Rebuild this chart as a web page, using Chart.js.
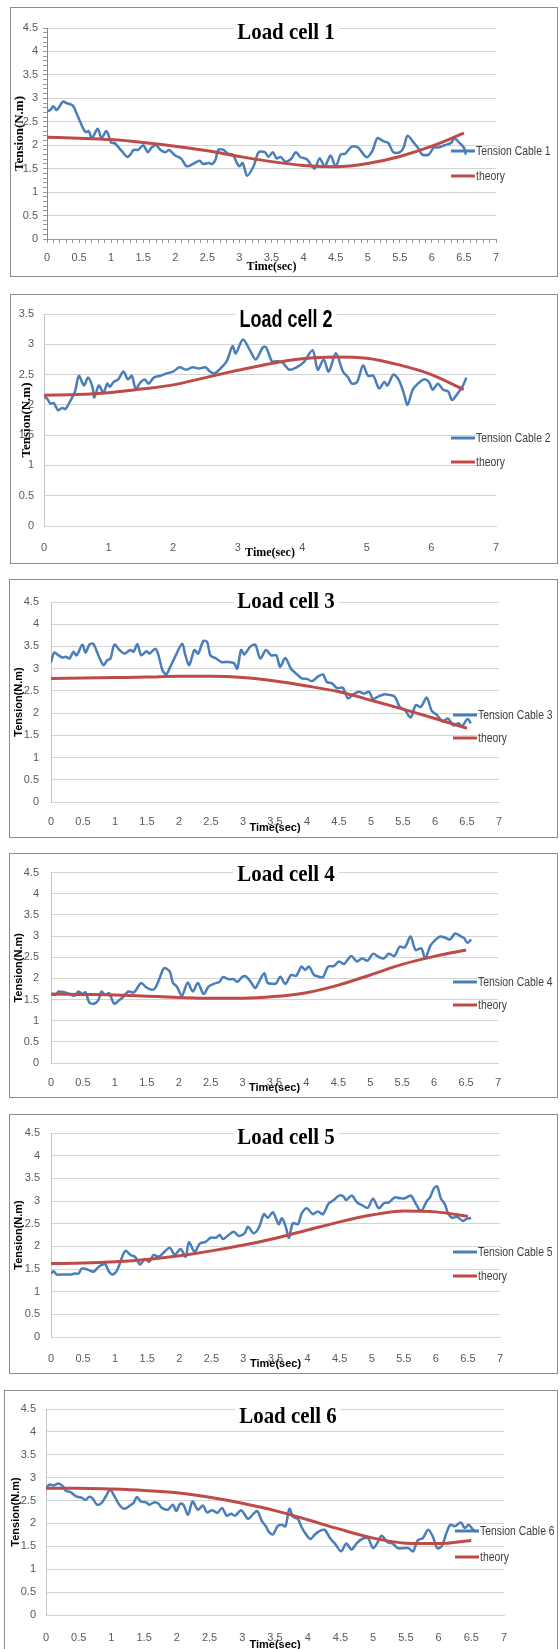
<!DOCTYPE html>
<html lang="en">
<head>
<meta charset="UTF-8">
<title>Load cells</title>
<script src="https://cdn.jsdelivr.net/npm/chart.js"></script>
<style>
  html, body { margin: 0; padding: 0; background: #fff; }
  body { position: relative; width: 560px; height: 1649px; overflow: hidden; }
  .panel { position: absolute; box-sizing: border-box; border: 1px solid #8c8c8c; background: #fff; }
  .panel canvas { display: block; }
</style>
</head>
<body>
<div class="panel" id="p0"><canvas id="c0"></canvas></div>
<div class="panel" id="p1"><canvas id="c1"></canvas></div>
<div class="panel" id="p2"><canvas id="c2"></canvas></div>
<div class="panel" id="p3"><canvas id="c3"></canvas></div>
<div class="panel" id="p4"><canvas id="c4"></canvas></div>
<div class="panel" id="p5"><canvas id="c5"></canvas></div>

<script>
const cell1Time = [0,0.05,0.1,0.15,0.25,0.3,0.4,0.47,0.55,0.6,0.65,0.7,0.79,0.85,0.92,0.95,1.0,1.05,1.15,1.25,1.3,1.35,1.42,1.5,1.57,1.63,1.7,1.77,1.85,1.9,2.0,2.05,2.1,2.18,2.3,2.38,2.43,2.52,2.58,2.63,2.67,2.75,2.82,2.9,2.95,3.0,3.05,3.12,3.22,3.3,3.4,3.45,3.52,3.58,3.64,3.72,3.8,3.88,3.95,4.05,4.17,4.25,4.33,4.42,4.5,4.58,4.65,4.75,4.85,4.95,5.0,5.08,5.15,5.25,5.32,5.4,5.5,5.56,5.62,5.72,5.78,5.85,5.95,6.03,6.1,6.2,6.3,6.35,6.43,6.5,6.53];
const cell1Tension = [2.72,2.75,2.83,2.75,2.93,2.9,2.85,2.65,2.4,2.28,2.3,2.15,2.35,2.15,2.3,2.25,2.05,2.05,1.9,1.75,1.8,1.9,1.9,2.0,1.85,1.95,2.0,1.9,1.85,1.9,1.78,1.75,1.7,1.55,1.62,1.67,1.6,1.62,1.6,1.7,1.9,1.9,1.82,1.8,1.65,1.55,1.62,1.35,1.55,1.85,1.85,1.75,1.85,1.72,1.75,1.65,1.7,1.85,1.75,1.7,1.5,1.72,1.55,1.78,1.55,1.8,1.82,1.97,1.95,1.78,1.75,1.9,2.15,2.08,2.05,1.85,1.85,1.95,2.2,2.05,1.95,1.8,1.8,1.95,1.95,2.0,2.05,2.15,2.05,1.95,1.8];

const cell2Time = [0,0.05,0.1,0.15,0.22,0.28,0.33,0.4,0.48,0.54,0.62,0.68,0.75,0.78,0.85,0.92,0.98,1.02,1.08,1.15,1.23,1.3,1.36,1.42,1.5,1.56,1.62,1.7,1.8,1.9,2.0,2.1,2.2,2.3,2.4,2.5,2.57,2.64,2.75,2.83,2.92,2.97,3.08,3.19,3.28,3.39,3.44,3.53,3.6,3.69,3.8,3.91,4.02,4.16,4.24,4.33,4.41,4.52,4.63,4.71,4.77,4.85,4.94,5.02,5.1,5.19,5.27,5.32,5.41,5.49,5.57,5.63,5.71,5.79,5.88,5.96,6.02,6.1,6.18,6.26,6.32,6.4,6.49,6.54];
const cell2Tension = [2.14,2.1,2.02,2.03,1.91,1.95,1.93,2.05,2.22,2.48,2.32,2.45,2.3,2.12,2.32,2.2,2.35,2.3,2.38,2.42,2.55,2.42,2.48,2.27,2.38,2.42,2.35,2.45,2.48,2.52,2.55,2.62,2.58,2.62,2.6,2.62,2.55,2.52,2.62,2.72,2.97,2.85,3.08,2.9,2.75,2.95,2.95,2.72,2.72,2.7,2.58,2.62,2.7,2.9,2.58,2.75,2.55,2.85,2.55,2.45,2.35,2.38,2.65,2.48,2.48,2.27,2.38,2.32,2.5,2.42,2.2,2.0,2.25,2.35,2.42,2.38,2.25,2.35,2.25,2.22,2.08,2.18,2.32,2.45];

const cell3Time = [0,0.05,0.12,0.18,0.23,0.29,0.35,0.4,0.49,0.54,0.6,0.66,0.74,0.82,0.88,0.93,0.99,1.07,1.15,1.24,1.29,1.35,1.41,1.49,1.54,1.63,1.68,1.74,1.8,1.85,1.94,2.05,2.1,2.16,2.24,2.3,2.38,2.44,2.49,2.58,2.66,2.77,2.86,2.91,2.97,3.02,3.11,3.19,3.27,3.36,3.44,3.52,3.58,3.66,3.75,3.83,3.92,4.0,4.08,4.17,4.25,4.31,4.39,4.47,4.56,4.64,4.72,4.81,4.89,4.97,5.03,5.11,5.2,5.28,5.37,5.45,5.53,5.62,5.7,5.78,5.87,5.95,6.03,6.12,6.2,6.29,6.37,6.42,6.51,6.56];
const cell3Tension = [3.14,3.36,3.3,3.25,3.27,3.23,3.38,3.3,3.54,3.36,3.54,3.56,3.3,3.08,3.19,3.23,3.54,3.42,3.34,3.42,3.38,3.55,3.3,3.39,3.34,3.45,3.3,2.97,2.87,3.0,3.27,3.56,3.3,3.08,3.42,3.34,3.62,3.6,3.3,3.23,3.15,3.15,3.12,3.0,3.42,3.32,3.49,3.54,3.23,3.42,3.3,3.3,3.04,3.24,3.0,2.89,2.78,2.77,2.72,2.82,2.87,2.7,2.67,2.56,2.57,2.33,2.42,2.48,2.44,2.48,2.32,2.37,2.42,2.41,2.37,2.14,2.07,1.9,2.18,2.14,2.35,2.05,1.96,1.81,1.88,1.72,1.77,1.7,1.87,1.77];

const cell4Time = [0,0.07,0.12,0.21,0.29,0.37,0.43,0.49,0.54,0.6,0.67,0.74,0.79,0.85,0.91,0.99,1.07,1.13,1.21,1.3,1.41,1.49,1.58,1.63,1.69,1.77,1.86,1.91,1.97,2.05,2.14,2.22,2.3,2.39,2.47,2.55,2.64,2.69,2.78,2.86,2.92,3.0,3.06,3.14,3.2,3.25,3.34,3.39,3.48,3.53,3.59,3.67,3.76,3.84,3.92,3.98,4.04,4.12,4.2,4.26,4.34,4.43,4.51,4.59,4.7,4.79,4.87,4.96,5.04,5.13,5.21,5.29,5.38,5.46,5.54,5.63,5.71,5.8,5.86,5.94,6.02,6.1,6.19,6.25,6.33,6.41,6.47,6.52,6.58];
const cell4Tension = [1.63,1.61,1.69,1.67,1.63,1.59,1.69,1.63,1.67,1.43,1.4,1.48,1.69,1.61,1.65,1.4,1.49,1.56,1.69,1.67,1.89,1.79,1.73,1.77,1.96,2.24,2.16,1.89,1.81,1.59,1.9,1.69,1.89,1.63,1.81,1.87,1.92,2.03,1.98,1.98,1.92,2.04,2.04,1.89,1.77,1.9,2.12,1.9,1.87,1.89,2.04,1.87,2.08,2.06,2.28,2.2,2.28,2.08,2.04,2.03,2.28,2.29,2.4,2.34,2.53,2.4,2.47,2.42,2.58,2.51,2.47,2.58,2.53,2.75,2.73,2.99,2.67,2.71,2.47,2.77,2.91,2.99,2.95,2.92,3.06,3.0,2.95,2.84,2.92];

const cell5Time = [0,0.04,0.09,0.21,0.32,0.37,0.43,0.48,0.54,0.6,0.66,0.73,0.79,0.85,0.9,0.96,1.03,1.1,1.16,1.24,1.31,1.39,1.46,1.53,1.6,1.68,1.77,1.85,1.93,2.02,2.1,2.15,2.24,2.32,2.41,2.49,2.57,2.63,2.68,2.77,2.85,2.93,3.02,3.07,3.16,3.24,3.32,3.38,3.46,3.55,3.6,3.66,3.71,3.77,3.85,3.91,3.99,4.08,4.16,4.24,4.33,4.41,4.49,4.56,4.6,4.69,4.77,4.86,4.94,5.02,5.11,5.19,5.27,5.36,5.44,5.52,5.61,5.69,5.77,5.86,5.91,5.97,6.02,6.08,6.14,6.19,6.25,6.33,6.42,6.47,6.55];
const cell5Tension = [1.4,1.45,1.38,1.38,1.38,1.4,1.4,1.51,1.5,1.47,1.44,1.53,1.59,1.6,1.45,1.38,1.47,1.73,1.9,1.81,1.77,1.6,1.72,1.66,1.81,1.77,1.88,1.97,1.82,1.94,1.77,2.09,1.88,2.06,2.1,2.19,2.19,2.25,2.16,2.25,2.32,2.23,2.29,2.43,2.29,2.41,2.71,2.63,2.75,2.49,2.62,2.43,2.19,2.51,2.49,2.73,2.84,2.71,2.77,2.71,2.95,3.02,3.12,3.1,3.02,3.12,2.97,2.9,2.85,3.05,2.84,2.95,2.97,3.08,3.06,3.06,3.12,2.93,2.78,3.0,3.08,3.28,3.32,3.05,2.93,2.73,2.63,2.65,2.56,2.6,2.63];

const cell6Time = [0,0.05,0.11,0.19,0.26,0.3,0.38,0.46,0.55,0.6,0.66,0.71,0.78,0.85,0.93,0.98,1.04,1.12,1.2,1.28,1.34,1.39,1.45,1.53,1.58,1.65,1.72,1.77,1.86,1.94,1.99,2.05,2.1,2.17,2.24,2.32,2.4,2.46,2.54,2.62,2.69,2.76,2.83,2.89,2.98,3.03,3.09,3.17,3.23,3.3,3.36,3.41,3.47,3.54,3.6,3.66,3.72,3.78,3.85,3.9,3.96,4.04,4.11,4.18,4.26,4.34,4.41,4.51,4.59,4.67,4.75,4.83,4.92,5.0,5.07,5.13,5.22,5.3,5.38,5.46,5.54,5.61,5.68,5.76,5.84,5.91,5.98,6.05,6.12,6.18,6.25,6.34,6.4,6.46,6.53,6.58];
const cell6Tension = [2.75,2.85,2.83,2.87,2.81,2.72,2.68,2.59,2.56,2.51,2.58,2.55,2.41,2.45,2.63,2.74,2.61,2.41,2.32,2.39,2.45,2.58,2.48,2.46,2.41,2.46,2.43,2.34,2.3,2.41,2.27,2.43,2.41,2.19,2.48,2.3,2.39,2.24,2.29,2.23,2.34,2.17,2.21,2.17,2.29,2.21,2.1,2.21,2.27,2.05,1.94,1.81,1.76,1.94,1.97,1.94,2.32,2.14,2.1,1.94,1.79,1.66,1.76,1.83,1.86,1.68,1.57,1.39,1.56,1.43,1.57,1.66,1.68,1.46,1.59,1.73,1.59,1.56,1.46,1.46,1.46,1.39,1.63,1.68,1.86,1.72,1.46,1.51,1.79,1.97,1.94,2.02,1.9,1.97,1.86,1.83];

// theory curves, sampled every 0.5 s
const theoryTime = [0,0.5,1,1.5,2,2.5,3,3.5,4,4.5,5,5.5,6,6.5];
const theory1 = [2.17,2.15,2.12,2.06,1.98,1.88,1.76,1.65,1.57,1.54,1.61,1.76,1.98,2.26];
const theory2 = [2.16,2.17,2.2,2.26,2.33,2.45,2.57,2.68,2.76,2.79,2.77,2.66,2.5,2.25];
const theory3 = [2.78,2.79,2.8,2.81,2.83,2.83,2.8,2.72,2.61,2.48,2.29,2.09,1.88,1.66];
const theory4 = [1.63,1.62,1.61,1.58,1.55,1.53,1.53,1.57,1.66,1.84,2.08,2.33,2.52,2.67];
const theory5 = [1.62,1.63,1.66,1.71,1.79,1.9,2.03,2.18,2.36,2.54,2.69,2.78,2.76,2.66];
const theory6 = [2.77,2.77,2.75,2.72,2.67,2.57,2.44,2.28,2.08,1.87,1.68,1.57,1.56,1.63];

const cellNames = ['Load cell 1','Load cell 2','Load cell 3','Load cell 4','Load cell 5','Load cell 6'];
const seriesNames = ['Tension Cable 1','Tension Cable 2','Tension Cable 3','Tension Cable 4','Tension Cable 5','Tension Cable 6'];
const yMax = [4.5, 3.5, 4.5, 4.5, 4.5, 4.5];
const xStep = [0.5, 1, 0.5, 0.5, 0.5, 0.5];

const times = [cell1Time, cell2Time, cell3Time, cell4Time, cell5Time, cell6Time];
const tensions = [cell1Tension, cell2Tension, cell3Tension, cell4Tension, cell5Tension, cell6Tension];
const theories = [theory1, theory2, theory3, theory4, theory5, theory6];

// panel boxes and plot geometry (page pixels)
const layout = [
  {left: 10, top: 7,    w: 548, h: 270, yW: 36, tp: 20, rp: 61, xH: 37, yPad: 5,  xPad: 8,  yTitle: 1, xTitle: 2, lx: 440, ly: 143, gap: 25, tx: 275, ty: 25},
  {left: 10, top: 294,  w: 548, h: 270, yW: 33, tp: 19, rp: 61, xH: 37, yPad: 10, xPad: 15, yTitle: 8, xTitle: 3, lx: 440, ly: 143, gap: 24, tx: 275, ty: 25},
  {left: 9,  top: 579,  w: 549, h: 259, yW: 41, tp: 22, rp: 58, xH: 35, yPad: 12, xPad: 13, yTitle: 2, xTitle: 2, lx: 443, ly: 135, gap: 23, tx: 276, ty: 22},
  {left: 9,  top: 853,  w: 549, h: 245, yW: 41, tp: 18, rp: 59, xH: 34, yPad: 12, xPad: 13, yTitle: 2, xTitle: 2, lx: 443, ly: 128, gap: 23, tx: 276, ty: 21},
  {left: 9,  top: 1114, w: 549, h: 260, yW: 41, tp: 18, rp: 57, xH: 36, yPad: 11, xPad: 15, yTitle: 2, xTitle: 2, lx: 443, ly: 137, gap: 24, tx: 276, ty: 23},
  {left: 4,  top: 1390, w: 554, h: 272, yW: 41, tp: 18, rp: 53, xH: 46, yPad: 10, xPad: 16, yTitle: 4, xTitle: 9, lx: 450, ly: 140, gap: 26, tx: 283, ty: 26}
];

const serif = "'Liberation Serif', 'Times New Roman', serif";
const sans = "'Liberation Sans', Arial, sans-serif";
const blue = '#4a7ebb';
const red = '#be4b48';
const gridGray = '#d4d4d4';
const tickGray = '#595959';

// title drawn over the top gridline on a white box, like the original
const overlayTitle = {
  id: 'overlayTitle',
  afterDraw(chart, args, opts) {
    const ctx = chart.ctx;
    ctx.save();
    ctx.font = opts.font;
    const w = ctx.measureText(opts.text).width * opts.squeeze;
    ctx.fillStyle = '#fff';
    ctx.fillRect(opts.x - w / 2 - 4, opts.y - 11, w + 8, 22);
    ctx.translate(opts.x, opts.y);
    ctx.scale(opts.squeeze, 1);
    ctx.fillStyle = '#000';
    ctx.textAlign = 'center';
    ctx.textBaseline = 'middle';
    ctx.fillText(opts.text, 0, 0);
    ctx.restore();
  }
};

// legend at the right edge, partly over the plot; narrow text like Calibri
const sideLegend = {
  id: 'sideLegend',
  afterDraw(chart, args, opts) {
    const ctx = chart.ctx;
    ctx.save();
    ctx.font = '13px ' + sans;
    ctx.textBaseline = 'middle';
    chart.data.datasets.forEach((ds, i) => {
      const y = opts.y + i * opts.gap;
      ctx.strokeStyle = ds.borderColor;
      ctx.lineWidth = 3;
      ctx.beginPath();
      ctx.moveTo(opts.x, y);
      ctx.lineTo(opts.x + 24, y);
      ctx.stroke();
      ctx.save();
      ctx.translate(opts.x + 25, y);
      ctx.scale(0.8, 1);
      ctx.fillStyle = '#404040';
      ctx.fillText(ds.label, 0, 0);
      ctx.restore();
    });
    ctx.restore();
  }
};

function isHalf(v) {
  return Math.abs(v * 2 - Math.round(v * 2)) < 1e-6;
}

function makeChart(i) {
  const L = layout[i];
  const panel = document.getElementById('p' + i);
  panel.style.left = L.left + 'px';
  panel.style.top = L.top + 'px';
  panel.style.width = L.w + 'px';
  panel.style.height = L.h + 'px';

  const canvas = document.getElementById('c' + i);
  const cw = L.w - 2, ch = L.h - 2;
  canvas.width = cw;
  canvas.height = ch;
  canvas.style.width = cw + 'px';
  canvas.style.height = ch + 'px';

  const fine = i === 0; // first panel shows minor tick marks
  const axisFamily = i < 2 ? serif : sans;
  const titleFont = i === 1 ? 'bold 24px ' + sans : 'bold 24px ' + serif;

  const measured = times[i].map((t, k) => ({x: t, y: tensions[i][k]}));
  const theory = theoryTime.map((t, k) => ({x: t, y: theories[i][k]}));

  new Chart(canvas, {
    type: 'line',
    data: {
      datasets: [
        {label: seriesNames[i], data: measured, borderColor: blue, borderWidth: 2.5, pointRadius: 0, tension: 0.3, order: 2},
        {label: 'theory', data: theory, borderColor: red, borderWidth: 3, pointRadius: 0, cubicInterpolationMode: 'monotone', order: 1}
      ]
    },
    options: {
      responsive: false,
      animation: false,
      devicePixelRatio: 1,
      events: [],
      layout: {padding: {left: 0, top: L.tp, right: L.rp, bottom: 0}},
      plugins: {
        legend: {display: false},
        title: {display: false},
        tooltip: {enabled: false},
        overlayTitle: {text: cellNames[i], font: titleFont, x: L.tx, y: L.ty, squeeze: i === 1 ? 0.75 : 0.87},
        sideLegend: {x: L.lx, y: L.ly, gap: L.gap}
      },
      scales: {
        x: {
          type: 'linear',
          min: 0,
          max: 7,
          afterFit: s => { s.height = L.xH; },
          ticks: {
            stepSize: fine ? 0.1 : xStep[i],
            autoSkip: false,
            maxRotation: 0,
            padding: L.xPad,
            color: tickGray,
            font: {family: sans, size: 11},
            callback: v => (!fine || isHalf(v)) ? String(+v.toFixed(1)) : ''
          },
          grid: {drawOnChartArea: false, drawTicks: fine, tickLength: 4, tickColor: '#9a9a9a'},
          border: {color: fine ? '#9a9a9a' : gridGray},
          title: {display: true, text: 'Time(sec)', color: '#000',
                  font: {family: axisFamily, size: i < 2 ? 12 : 11, weight: 'bold'},
                  padding: {top: 0, bottom: L.xTitle}}
        },
        y: {
          min: 0,
          max: yMax[i],
          afterFit: s => { s.width = L.yW; },
          ticks: {
            stepSize: fine ? 0.1 : 0.5,
            autoSkip: false,
            padding: L.yPad,
            color: tickGray,
            font: {family: sans, size: 11},
            callback: v => (!fine || isHalf(v)) ? String(+v.toFixed(1)) : ''
          },
          grid: {
            color: c => isHalf(c.tick.value) ? gridGray : 'rgba(0,0,0,0)',
            drawTicks: fine,
            tickLength: 4,
            tickColor: '#9a9a9a'
          },
          border: {color: fine ? '#868686' : '#c4c4c4'},
          title: {display: true, text: 'Tension(N.m)', color: '#000',
                  font: {family: axisFamily, size: i < 2 ? 13 : 11, weight: 'bold'},
                  padding: {top: L.yTitle, bottom: 0}}
        }
      }
    },
    plugins: [overlayTitle, sideLegend]
  });
}

for (let i = 0; i < 6; i++) makeChart(i);
</script>
</body>
</html>
